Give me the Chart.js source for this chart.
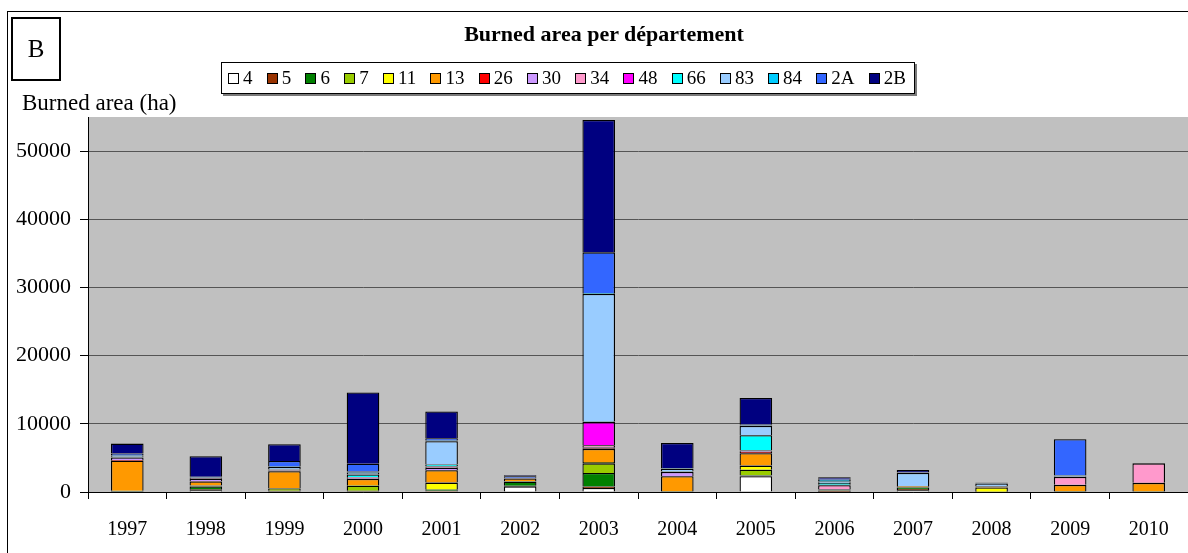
<!DOCTYPE html>
<html>
<head>
<meta charset="utf-8">
<script src="https://cdn.jsdelivr.net/npm/chart.js@4.4.0/dist/chart.umd.min.js"></script>
<style>
body{margin:0;background:#fff;overflow:hidden;}
#wrap{position:relative;width:1188px;height:553px;overflow:hidden;font-family:"Liberation Serif","Times New Roman",serif;}
#frame{position:absolute;left:7px;top:11px;width:1400px;height:800px;border:1px solid #000;}
#bbox{position:absolute;left:11px;top:17px;width:46px;height:60px;border:2px solid #000;font-size:25px;line-height:60px;text-align:center;}
#title{position:absolute;left:0;top:21px;width:1208px;text-align:center;font-weight:bold;font-size:22px;}
#legend{position:absolute;left:221px;top:62px;width:694px;height:32px;box-sizing:border-box;border:1px solid #000;box-shadow:2px 2px 0 #7a7a7a;display:flex;align-items:center;justify-content:space-between;padding:0 8px 0 6px;font-size:19px;}
#legend span.it{display:flex;align-items:center;}
#legend i{display:inline-block;width:9px;height:9px;border:1px solid #000;margin-right:4px;}
#ytitle{position:absolute;left:22px;top:90px;font-size:23px;}
canvas{position:absolute;left:0;top:0;}
</style>
</head>
<body>
<div id="wrap">
<div id="frame"></div>
<canvas id="main-chart" width="1188" height="553"></canvas>
<div id="bbox">B</div>
<div id="title">Burned area per département</div>
<div id="legend"></div>
<div id="ytitle">Burned area (ha)</div>
</div>
<script>
const years=['1997','1998','1999','2000','2001','2002','2003','2004','2005','2006','2007','2008','2009','2010'];
const depts=['4','5','6','7','11','13','26','30','34','48','66','83','84','2A','2B'];
const colors=['#FFFFFF','#993300','#008000','#99CC00','#FFFF00','#FF9900','#FF0000','#CC99FF','#FF99CC','#FF00FF','#00FFFF','#99CCFF','#00CCFF','#3366FF','#000080'];
const yTicks=[0,10000,20000,30000,40000,50000];

const d4=[0,250,50,50,0,830,600,0,2300,50,250,0,50,50];
const d5=[50,150,50,50,200,100,200,0,100,150,200,0,0,0];
const d6=[50,400,100,100,100,590,2000,50,50,50,200,0,0,0];
const d7=[50,100,300,730,100,50,1400,50,830,0,0,50,50,0];
const d11=[50,50,100,100,980,30,200,0,590,0,100,600,50,50];
const d13=[4400,600,2450,880,1810,390,1900,2200,1810,100,100,150,880,1220];
const d26=[100,50,50,50,50,0,100,0,200,0,0,0,0,50];
const d30=[350,300,100,100,300,30,150,630,100,100,0,50,50,0];
const d34=[50,100,100,100,200,30,300,50,100,550,0,0,1120,2830];
const d48=[0,0,0,0,50,0,3400,0,50,50,0,0,50,0];
const d66=[50,0,50,400,250,0,100,50,2200,300,0,0,50,0];
const d83=[100,100,300,300,3420,30,18700,390,1370,200,1960,400,100,0];
const d84=[100,50,100,130,100,0,100,50,100,250,0,50,50,0];
const d2A=[300,100,800,1170,340,240,6000,50,150,150,100,50,5280,0];
const d2B=[1450,3000,2450,10450,3910,150,19400,3670,3850,200,300,50,50,0];
const seriesValues=[d4,d5,d6,d7,d11,d13,d26,d30,d34,d48,d66,d83,d84,d2A,d2B];

// legend as html
const leg=document.getElementById('legend');
depts.forEach((d,i)=>{
    const s=document.createElement('span');
    s.className='it';
    s.innerHTML='<i style="background:'+colors[i]+'"></i>'+d;
    leg.appendChild(s);
});

const plotBg={
    id:'plotBg',
    beforeDraw(chart){
        const a=chart.chartArea, c=chart.ctx;
        c.save();
        c.fillStyle='#C0C0C0';
        c.fillRect(a.left,a.top,a.right-a.left,a.bottom-a.top);
        c.restore();
    }
};

const ctx=document.getElementById('main-chart').getContext('2d');
const chart=new Chart(ctx,{
    type:'bar',
    data:{
        labels:years,
        datasets:depts.map((d,i)=>({
            label:d,
            data:seriesValues[i],
            backgroundColor:colors[i],
            borderColor:'#000',
            borderWidth:1.3,
            barPercentage:0.415,
            categoryPercentage:1
        }))
    },
    options:{
        responsive:false,
        animation:false,
        devicePixelRatio:1,
        layout:{padding:{top:117,left:0,right:0,bottom:0}},
        plugins:{legend:{display:false},title:{display:false},tooltip:{enabled:false}},
        scales:{
            x:{
                stacked:true,
                afterFit:(s)=>{s.height=61;},
                border:{color:'#000',width:1},
                grid:{drawOnChartArea:false,drawTicks:true,tickLength:7,tickColor:'#000',offset:true},
                ticks:{color:'#000',padding:19,font:{family:'Liberation Serif',size:20},maxRotation:0}
            },
            y:{
                stacked:true,
                min:0,
                max:55000,
                afterFit:(s)=>{s.width=88;},
                afterBuildTicks:(s)=>{s.ticks=yTicks.map(v=>({value:v}));},
                border:{color:'#000',width:1},
                grid:{color:'#555',lineWidth:1,tickLength:8,tickColor:'#000'},
                ticks:{color:'#000',padding:9,font:{family:'Liberation Serif',size:22},callback:(v)=>String(v)}
            }
        }
    },
    plugins:[plotBg]
});
</script>
</body>
</html>
